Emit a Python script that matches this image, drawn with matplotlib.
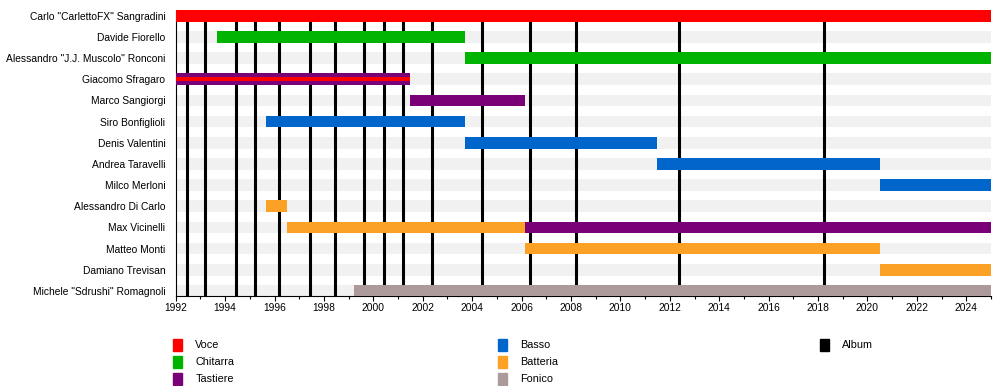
import matplotlib.pyplot as plt
from matplotlib.patches import Rectangle
from matplotlib.ticker import MultipleLocator

# couleurs des rôles
ruoli = ["Voce", "Chitarra", "Tastiere", "Basso", "Batteria", "Fonico", "Album"]
colori = {"Voce": "#ff0000", "Chitarra": "#00b300", "Tastiere": "#7a0078",
          "Basso": "#0066cc", "Batteria": "#fba125", "Fonico": "#ac9999",
          "Album": "#000000"}

membri = ['Carlo "CarlettoFX" Sangradini', "Davide Fiorello",
          'Alessandro "J.J. Muscolo" Ronconi', "Giacomo Sfragaro",
          "Marco Sangiorgi", "Siro Bonfiglioli", "Denis Valentini",
          "Andrea Taravelli", "Milco Merloni", "Alessandro Di Carlo",
          "Max Vicinelli", "Matteo Monti", "Damiano Trevisan",
          'Michele "Sdrushi" Romagnoli']

# (membro, ruolo, inizio, fine)
periodi = [
    (0, "Voce", 1992.0, 2025.0),
    (1, "Chitarra", 1993.66, 2003.72),
    (2, "Chitarra", 2003.7, 2025.0),
    (3, "Tastiere", 1992.0, 2001.5),
    (4, "Tastiere", 2001.5, 2006.15),
    (5, "Basso", 1995.64, 2003.72),
    (6, "Basso", 2003.7, 2011.5),
    (7, "Basso", 2011.5, 2020.5),
    (8, "Basso", 2020.5, 2025.0),
    (9, "Batteria", 1995.64, 1996.5),
    (10, "Batteria", 1996.5, 2006.12),
    (10, "Tastiere", 2006.12, 2025.0),
    (11, "Batteria", 2006.12, 2020.5),
    (12, "Batteria", 2020.5, 2025.0),
    (13, "Fonico", 1999.2, 2025.0),
]
# voce sottile sopra le tastiere
periodi_sec = [(3, "Voce", 1992.0, 2001.5)]

album = [1992.47, 1993.2, 1994.45, 1995.22, 1996.2, 1997.45, 1998.46,
         1999.64, 2000.45, 2001.22, 2002.39, 2004.38, 2006.33, 2008.19,
         2012.36, 2018.26]

inizio, fine = 1992, 2025
narrow = ["Liberation Sans Narrow", "Liberation Sans"]

fig = plt.figure(figsize=(10, 3.86), dpi=100)
ax = fig.add_axes([0.1757, 0.2339, 0.8153, 0.7401])

n = len(membri)
h = 0.553
ax.barh(range(n), fine - inizio, left=inizio, height=h, color="#f1f1f1", zorder=1)
ax.vlines(album, -0.3, n, color="black", linewidth=2.2, zorder=2)
for m, r, a, b in periodi:
    ax.barh(m, b - a, left=a, height=h, color=colori[r], zorder=3)
for m, r, a, b in periodi_sec:
    ax.barh(m, b - a, left=a, height=h / 3, color=colori[r], zorder=4)

ax.set_xlim(inizio, fine)
ax.set_ylim(n - 1 + 0.23, -0.274)
ax.set_yticks(range(n))
ax.set_yticklabels(membri, fontsize=7.4, family="Liberation Sans")
ax.tick_params(axis="y", length=0, pad=7.5)
ax.xaxis.set_major_locator(MultipleLocator(2))
ax.xaxis.set_minor_locator(MultipleLocator(1))
ax.tick_params(axis="x", which="major", length=3.5, width=0.8, labelsize=7.4, pad=2)
ax.tick_params(axis="x", which="minor", length=2, width=0.8)
for t in ax.get_xticklabels():
    t.set_family(narrow)
for s in ["top", "right"]:
    ax.spines[s].set_visible(False)
ax.spines["left"].set_linewidth(0.8)
ax.spines["bottom"].set_linewidth(0.8)

# légende en trois colonnes
col_x = [0.1727, 0.4977, 0.8197]
riga_y = [386 - 351, 386 - 368, 386 - 385]
for i, r in enumerate(ruoli):
    c, rg = divmod(i, 3)
    x0 = col_x[c]
    y0 = riga_y[rg] / 386
    fig.patches.append(Rectangle((x0, y0), 0.009, 12 / 386, transform=fig.transFigure,
                                 color=colori[r]))
    fig.text(x0 + 0.0225, y0 + 6 / 386, r, fontsize=7.8, va="center", family=narrow)

fig.savefig("out.png", dpi=100)
